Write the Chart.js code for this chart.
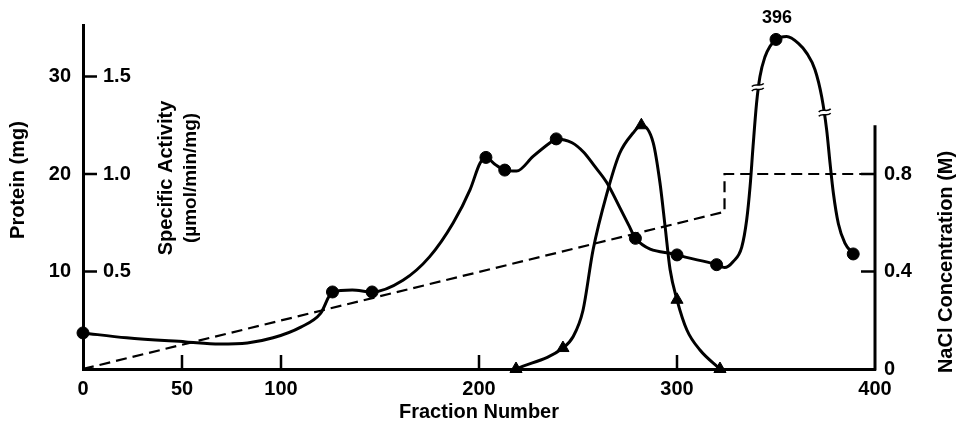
<!DOCTYPE html>
<html>
<head>
<meta charset="utf-8">
<script src="https://cdn.jsdelivr.net/npm/chart.js@4/dist/chart.umd.min.js"></script>
<style>
  body { margin: 0; background: #fff; }
</style>
</head>
<body>
<canvas id="chart" width="956" height="430"></canvas>
<script>
// Protein (mg): plotted circles
const proteinX = [0, 126, 146, 203.5, 213, 239, 279, 300, 320, 350, 389];
const proteinY = [3.7, 7.9, 7.9, 21.7, 20.4, 23.6, 13.4, 11.7, 10.7, 33.8, 11.8];

// Protein curve as traced through the circles
const proteinCurveX = [0, 22, 52, 69, 83, 96, 110, 120, 126, 136, 146, 161.6, 175, 187, 195.5, 200.5, 203.5, 208, 213, 219, 227.3, 235.9, 239,
  247, 253, 258, 264.6, 271, 276, 279, 300, 320, 324, 328.3, 332.7, 335.2, 336.9, 338.4, 340.2, 341.9, 344.4, 347, 350,
  355.4, 361.3, 365.5, 369.7, 373.1, 375.6, 377.3, 379, 381.5, 384.8, 389];
const proteinCurveY = [3.7, 3.2, 2.78, 2.56, 2.67, 3.2, 4.3, 5.7, 7.9, 8.1, 7.9, 9.1, 11.5, 15.0, 18.4, 21.1, 21.7, 21.0, 20.4, 20.3, 21.8, 23.2, 23.6,
  23.2, 22.2, 20.9, 19.1, 16.6, 14.6, 13.4, 11.7, 10.7, 10.4, 11.0, 12.5, 15.3, 18.7, 22.8, 27.3, 30.0, 32.0, 33.1, 33.8,
  34.1, 33.4, 32.4, 30.7, 27.9, 24.5, 21.1, 18.0, 14.9, 12.9, 11.8];

// Specific activity (umol/min/mg): plotted triangles
const activityX = [218.7, 242.4, 282, 300, 321.7];
const activityY = [0, 0.1075, 1.25, 0.355, 0];

// Specific activity curve as traced
const activityCurveX = [218.7, 242.4, 247.5, 252.5, 257.6, 264.6, 271, 277.8, 282, 288, 291.4, 294, 296.5, 300, 305, 311.6, 321.7];
const activityCurveY = [0, 0.1075, 0.165, 0.30, 0.61, 0.90, 1.105, 1.21, 1.25, 1.16, 0.955, 0.73, 0.51, 0.355, 0.20, 0.0975, 0];

// NaCl gradient (M)
const naclX = [0, 324, 324, 400];
const naclY = [0, 0.645, 0.8, 0.8];

// tick labels
const xTicks = [0, 50, 100, 200, 300, 400];
const proteinTicks = [10, 20, 30];
const activityTicks = [0.5, 1.0, 1.5];
const naclTicks = [0, 0.4, 0.8];

// axis breaks on the big peak, and its off-scale value
const breakX = [340.8, 374.6];
const breakY = [28.9, 26.3];
const peakX = 350;
const peakY = 33.8;
const peakLabel = '396';

const toPoints = (xs, ys) => xs.map((x, i) => ({ x: x, y: ys[i] }));

const FONT = 'Liberation Sans, Arial, Helvetica, sans-serif';

// inward ticks, partial right axis, titles and break marks
const decorations = {
  id: 'decorations',
  afterDraw(chart) {
    const ctx = chart.ctx;
    const area = chart.chartArea;
    const sx = chart.scales.x;
    const sy = chart.scales.y;
    const sn = chart.scales.ynacl;

    ctx.save();
    ctx.strokeStyle = '#000';
    ctx.lineWidth = 2.5;
    ctx.beginPath();
    proteinTicks.forEach(v => {
      const y = sy.getPixelForValue(v);
      ctx.moveTo(area.left, y);
      ctx.lineTo(area.left + 14, y);
    });
    xTicks.slice(1, -1).forEach(v => {
      const x = sx.getPixelForValue(v);
      ctx.moveTo(x, area.bottom);
      ctx.lineTo(x, area.bottom - 14);
    });
    naclTicks.slice(1).forEach(v => {
      const y = sn.getPixelForValue(v);
      ctx.moveTo(area.right - 14, y);
      ctx.lineTo(area.right, y);
    });
    ctx.stroke();

    // right axis only runs up to 1.0 M
    ctx.lineWidth = 3;
    ctx.beginPath();
    ctx.moveTo(area.right, sn.getPixelForValue(0) + 1.5);
    ctx.lineTo(area.right, sn.getPixelForValue(1.0));
    ctx.stroke();

    // break marks
    breakX.forEach((bx, i) => {
      const x = sx.getPixelForValue(bx);
      const y = sy.getPixelForValue(breakY[i]);
      ctx.fillStyle = '#fff';
      ctx.fillRect(x - 6, y - 2, 12, 4);
      ctx.lineWidth = 1.5;
      [-2.2, 2.2].forEach(off => {
        ctx.beginPath();
        ctx.moveTo(x - 6, y + off + 1.5);
        ctx.bezierCurveTo(x - 2, y + off - 2.5, x + 2, y + off + 2.5, x + 6, y + off - 1.5);
        ctx.stroke();
      });
    });

    ctx.fillStyle = '#000';
    ctx.textAlign = 'center';
    ctx.textBaseline = 'middle';

    // peak value
    ctx.font = 'bold 18px ' + FONT;
    ctx.fillText(peakLabel, sx.getPixelForValue(peakX) + 1, sy.getPixelForValue(peakY) - 21);

    const vText = (text, x, y, size, rot) => {
      ctx.save();
      ctx.translate(x, y);
      ctx.rotate(rot);
      ctx.font = 'bold ' + size + 'px ' + FONT;
      ctx.fillText(text, 0, 0);
      ctx.restore();
    };
    vText('Protein (mg)', 18, 180, 20, -Math.PI / 2);
    vText('Specific Activity', 166, 178, 20, -Math.PI / 2);
    vText('(\u00b5mol/min/mg)', 191, 178, 19, -Math.PI / 2);
    vText('NaCl Concentration (M)', 946, 262, 20, -Math.PI / 2);
    ctx.restore();
  }
};

const black = '#000';
const tickFont = { family: FONT, size: 20, weight: 'bold' };

// fixed axis box sizes so the plot area lands where the original has it
const fixWidth = w => s => { s.width = w; s.paddingTop = 0; s.paddingBottom = 0; };

new Chart(document.getElementById('chart'), {
  type: 'line',
  data: {
    datasets: [
      {
        data: toPoints(proteinCurveX, proteinCurveY),
        yAxisID: 'y',
        borderColor: black,
        borderWidth: 3,
        pointRadius: 0,
        cubicInterpolationMode: 'monotone'
      },
      {
        data: toPoints(proteinX, proteinY),
        yAxisID: 'y',
        showLine: false,
        clip: false,
        pointStyle: 'circle',
        pointRadius: 6,
        backgroundColor: black,
        borderColor: black
      },
      {
        data: toPoints(activityCurveX, activityCurveY),
        yAxisID: 'ysa',
        borderColor: black,
        borderWidth: 3,
        pointRadius: 0,
        cubicInterpolationMode: 'monotone'
      },
      {
        data: toPoints(activityX, activityY),
        yAxisID: 'ysa',
        showLine: false,
        clip: false,
        pointStyle: 'triangle',
        pointRadius: 7,
        backgroundColor: black,
        borderColor: black
      },
      {
        data: toPoints(naclX, naclY),
        yAxisID: 'ynacl',
        borderColor: black,
        borderWidth: 2.2,
        borderDash: [11, 6],
        pointRadius: 0,
        tension: 0
      }
    ]
  },
  options: {
    responsive: false,
    animation: false,
    layout: { padding: { top: 25, left: 0, right: 0, bottom: 0 } },
    plugins: {
      legend: { display: false },
      tooltip: { enabled: false }
    },
    scales: {
      x: {
        type: 'linear',
        min: 0,
        max: 400,
        grid: { display: false, drawTicks: false },
        border: { color: black, width: 3 },
        afterBuildTicks: s => { s.ticks = xTicks.map(v => ({ value: v })); },
        afterFit: s => { s.height = 61; s.paddingLeft = 0; s.paddingRight = 0; },
        ticks: { color: black, font: tickFont, padding: 8, maxRotation: 0, autoSkip: false },
        title: {
          display: true,
          text: 'Fraction Number',
          color: black,
          font: { family: FONT, size: 20, weight: 'bold' },
          padding: { top: 0, bottom: 6 }
        }
      },
      y: {
        position: 'left',
        weight: 1,
        min: 0,
        max: 35.28,
        grid: { display: false, drawTicks: false },
        border: { color: black, width: 3 },
        afterBuildTicks: s => { s.ticks = proteinTicks.map(v => ({ value: v })); },
        afterFit: fixWidth(83),
        ticks: { color: black, font: tickFont, padding: 12 }
      },
      ysa: {
        position: 'left',
        weight: 0,
        min: 0,
        max: 35.28 / 20,
        grid: { display: false, drawTicks: false },
        border: { display: false },
        afterBuildTicks: s => { s.ticks = activityTicks.map(v => ({ value: v })); },
        afterFit: fixWidth(0),
        ticks: { color: black, font: tickFont, mirror: true, padding: 20, callback: v => v.toFixed(1) }
      },
      ynacl: {
        position: 'right',
        min: 0,
        max: 35.28 / 25,
        grid: { display: false, drawTicks: false },
        border: { display: false },
        afterBuildTicks: s => { s.ticks = naclTicks.map(v => ({ value: v })); },
        afterFit: fixWidth(81),
        ticks: { color: black, font: tickFont, padding: 9, callback: v => String(v) }
      }
    }
  },
  plugins: [decorations]
});
</script>
</body>
</html>
